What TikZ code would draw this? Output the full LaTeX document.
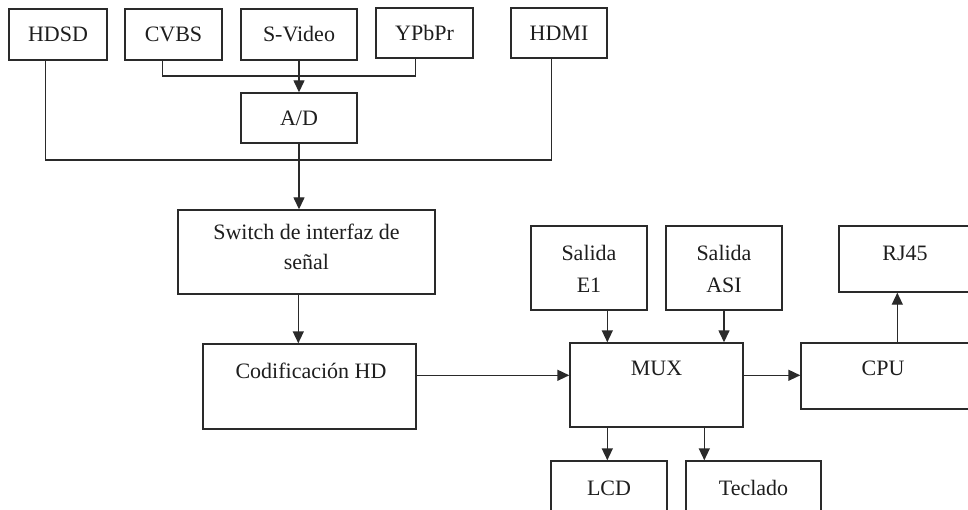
\documentclass[tikz,border=0pt]{standalone}
\usepackage{fontspec}
\setmainfont{Liberation Serif}
\usetikzlibrary{arrows.meta,calc}
\definecolor{ink}{HTML}{2A2A2A}
\definecolor{txt}{HTML}{1E1E1E}
\tikzset{
  blk/.style={draw=ink, line width=1.4pt, inner sep=0pt, text=txt, font=\fontsize{22}{26}\selectfont},
  wh/.style 2 args={minimum width=#1pt, minimum height=#2pt},
  lbl/.style={anchor=base, inner sep=0pt, text=txt, font=\fontsize{22}{26}\selectfont},
  wire/.style={draw=ink, line width=1.4pt},
  arr/.style={wire, -{Triangle[length=12pt,width=11pt]}},
}
\begin{document}
\begin{tikzpicture}[x=1pt,y=-1pt]
\useasboundingbox[fill=white] (0,0) rectangle (968,510);
\clip (0,0) rectangle (968,510);

% top row
\node[blk,wh={98}{51}] (hdsd) at (58,34.5) {HDSD};
\node[blk,wh={97}{51}] (cvbs) at (173.5,34.5) {CVBS};
\node[blk,wh={116}{51}] (sv) at (299,34.5) {S-Video};
\node[blk,wh={97}{50}] (ypbpr) at (424.5,33) {YPbPr};
\node[blk,wh={96}{50}] (hdmi) at (559,33) {HDMI};

\node[blk,wh={116}{50}] (ad) at (299,118) {A/D};

% switch
\node[blk,wh={257}{84}] (sw) at (306.5,252) {};
\node[lbl] (swA) at (306.5,239.5) {Switch de interfaz de};
\node[lbl] (swB) at (306.5,269.5) {señal};

% codificacion
\node[blk,wh={213}{85}] (cod) at (309.5,386.5) {};
\node[lbl] (codT) at (311,378.5) {Codificación HD};

% mux
\node[blk,wh={173}{84}] (mux) at (656.5,385) {};
\node[lbl] (muxT) at (656.5,375.5) {MUX};

% salidas
\node[blk,wh={116}{84}] (e1) at (589,268) {};
\node[lbl] (e1A) at (589,260.5) {Salida};
\node[lbl] (e1B) at (589,292.5) {E1};
\node[blk,wh={116}{84}] (asi) at (724,268) {};
\node[lbl] (asiA) at (724,260.5) {Salida};
\node[lbl] (asiB) at (724,292.5) {ASI};

% rj45 and cpu
\node[blk,wh={151}{66}] (rj) at (914.5,259) {};
\node[lbl] (rjT) at (905,260.5) {RJ45};
\node[blk,wh={189}{66}] (cpu) at (895.5,376) {};
\node[lbl] (cpuT) at (883,375.5) {CPU};

% lcd and teclado
\node[blk,wh={116}{59}] (lcd) at (609,490.5) {};
\node[lbl] (lcdT) at (609,495.5) {LCD};
\node[blk,wh={135}{59}] (tec) at (753.5,490.5) {};
\node[lbl] (tecT) at (753.5,495.5) {Teclado};

% connectors
\coordinate (bus1) at (299,76);
\coordinate (bus2) at (299,160);
\draw[wire] ($(cvbs.south west)+(38,0)$) |- (bus1) -| ($(ypbpr.south west)+(40,0)$);
\draw[arr] (sv.south) -- (ad.north);
\draw[wire] ($(hdsd.south west)+(37,0)$) |- (bus2) -| ($(hdmi.south west)+(41,0)$);
\draw[arr] (ad.south) -- (ad.south |- sw.north);

\coordinate (swO) at ($(sw.south west)+(121,0)$);
\draw[arr] (swO) -- (swO |- cod.north);

\coordinate (codO) at ($(cod.north east)+(0,32)$);
\draw[arr] (codO) -- (codO -| mux.west);
\draw[arr] (codO -| mux.east) -- (codO -| cpu.west);

\coordinate (e1O) at ($(e1.south west)+(77,0)$);
\draw[arr] (e1O) -- (e1O |- mux.north);
\draw[arr] (asi.south) -- (asi.south |- mux.north);
\draw[arr] (e1O |- mux.south) -- (e1O |- lcd.north);
\coordinate (tecO) at ($(mux.south west)+(135,0)$);
\draw[arr] (tecO) -- (tecO |- tec.north);

\coordinate (cpuO) at ($(cpu.north west)+(97,0)$);
\draw[arr] (cpuO) -- (cpuO |- rj.south);
\end{tikzpicture}
\end{document}
